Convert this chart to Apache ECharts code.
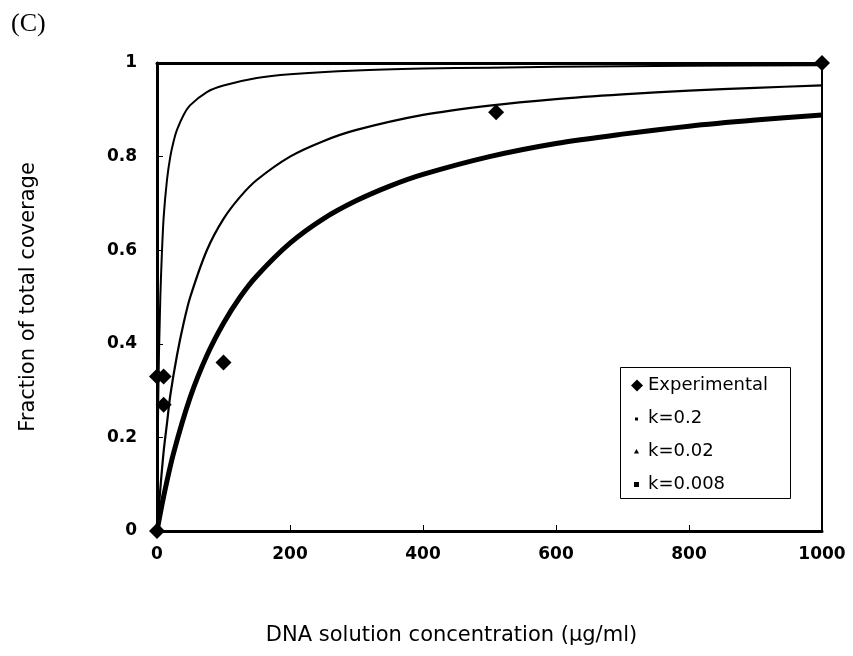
<!DOCTYPE html>
<html>
<head>
<meta charset="utf-8">
<script src="https://cdn.jsdelivr.net/npm/echarts@6/dist/echarts.min.js"></script>
<style>html,body{margin:0;padding:0;background:#fff}#c{width:853px;height:656px}</style>
</head>
<body>
<div id="c"></div>
<script>
// Experimental points [concentration, fraction]
var expX = [0, 0, 10, 10, 100, 510, 1000];
var expY = [0, 0.33, 0.33, 0.27, 0.36, 0.895, 1.0];

// Curves
var k02X = [0, 1, 2, 3, 4, 5, 7, 10, 15, 20, 25, 30, 40, 50, 75, 100, 150, 200, 300, 400, 500, 600, 800, 1000];
var k02Y = [0, 0.17, 0.29, 0.38, 0.44, 0.5, 0.58, 0.67, 0.75, 0.8, 0.833, 0.857, 0.889, 0.91, 0.938, 0.952, 0.968, 0.976, 0.984, 0.988, 0.99, 0.992, 0.994, 0.995];

var k002X = [0, 5, 10, 15, 20, 30, 40, 50, 75, 100, 125, 150, 200, 250, 300, 400, 500, 600, 700, 800, 900, 1000];
var k002Y = [0, 0.09, 0.17, 0.23, 0.29, 0.375, 0.444, 0.5, 0.6, 0.667, 0.714, 0.75, 0.8, 0.833, 0.857, 0.889, 0.909, 0.923, 0.933, 0.941, 0.947, 0.952];

var k0008X = [0, 10, 25, 50, 75, 100, 125, 150, 200, 250, 300, 350, 400, 500, 600, 700, 800, 900, 1000];
var k0008Y = [0, 0.074, 0.167, 0.286, 0.375, 0.444, 0.5, 0.545, 0.615, 0.667, 0.706, 0.737, 0.762, 0.8, 0.828, 0.848, 0.865, 0.878, 0.889];

var xTicks = [0, 200, 400, 600, 800, 1000];
var yTicks = [0, 0.2, 0.4, 0.6, 0.8, 1];

function pairs(xs, ys) { return xs.map(function (x, i) { return [x, ys[i]]; }); }

var chart = echarts.init(document.getElementById('c'));
var font = '"DejaVu Sans", "Liberation Sans", Arial, sans-serif';

chart.setOption({
  animation: false,
  backgroundColor: '#fff',
  title: {
    text: '(C)', left: 6, top: 6,
    textStyle: { fontFamily: '"Liberation Serif", "DejaVu Serif", serif', fontSize: 26, fontWeight: 'normal', color: '#000' }
  },
  grid: { left: 157, right: 31, top: 63, bottom: 125, show: true, borderColor: '#000', borderWidth: 2, backgroundColor: 'transparent' },
  xAxis: [{
    type: 'value', min: 0, max: 1000, interval: 200,
    name: 'DNA solution concentration (\u00b5g/ml)', nameLocation: 'middle', nameGap: 94,
    nameTextStyle: { fontFamily: font, fontSize: 21, color: '#000', padding: [0, 76, 0, 0] },
    axisLine: { show: true, lineStyle: { color: '#000', width: 3 } },
    axisTick: { show: true, inside: true, length: 6, lineStyle: { color: '#000', width: 1 } },
    axisLabel: { margin: 15, fontFamily: font, fontSize: 17, fontWeight: 'bold', color: '#000',
      formatter: function (v) { return String(v); } },
    splitLine: { show: false }
  }, {
    type: 'value', position: 'top', min: 0, max: 1000, interval: 200,
    axisLine: { show: true, lineStyle: { color: '#000', width: 3 } },
    axisTick: { show: false }, axisLabel: { show: false }, splitLine: { show: false }
  }],
  yAxis: {
    type: 'value', min: 0, max: 1, interval: 0.2,
    name: 'Fraction of total coverage', nameLocation: 'middle', nameGap: 118,
    nameTextStyle: { fontFamily: font, fontSize: 21, color: '#000' },
    axisLine: { show: true, lineStyle: { color: '#000', width: 3 } },
    axisTick: { show: true, inside: true, length: 6, lineStyle: { color: '#000', width: 1 } },
    axisLabel: { margin: 20, fontFamily: font, fontSize: 17, fontWeight: 'bold', color: '#000',
      formatter: function (v) { return String(Math.round(v * 10) / 10); } },
    splitLine: { show: false }
  },
  graphic: [{
    type: 'rect', left: 620, top: 367, shape: { width: 170, height: 131 },
    style: { fill: '#fff', stroke: '#000', lineWidth: 1 }, z: 3
  }],
  legend: {
    orient: 'vertical', left: 631, top: 376, padding: 0, itemGap: 14,
    itemWidth: 12, itemHeight: 12, selectedMode: false,
    textStyle: { fontFamily: font, fontSize: 18, color: '#000', lineHeight: 19 },
    data: [
      { name: 'Experimental', icon: 'diamond' },
      { name: 'k=0.2', icon: 'path://M0 0M12 12M4 5L7 5L7 8L4 8Z' },
      { name: 'k=0.02', icon: 'path://M0 0M12 12M5.5 3.5L8 8L3 8Z' },
      { name: 'k=0.008', icon: 'path://M0 0M12 12M3 3.5L8 3.5L8 8.5L3 8.5Z' }
    ]
  },
  series: [
    {
      name: 'k=0.2', type: 'line', data: pairs(k02X, k02Y), smooth: 0.3,
      showSymbol: false, lineStyle: { color: '#000', width: 2 }, itemStyle: { color: '#000' }, z: 2
    },
    {
      name: 'k=0.02', type: 'line', data: pairs(k002X, k002Y), smooth: 0.3,
      showSymbol: false, lineStyle: { color: '#000', width: 2.2 }, itemStyle: { color: '#000' }, z: 2
    },
    {
      name: 'k=0.008', type: 'line', data: pairs(k0008X, k0008Y), smooth: 0.3,
      showSymbol: false, lineStyle: { color: '#000', width: 5 }, itemStyle: { color: '#000' }, z: 2
    },
    {
      name: 'Experimental', type: 'scatter', data: pairs(expX, expY), symbol: 'diamond', symbolSize: 16,
      itemStyle: { color: '#000', opacity: 1 }, z: 3
    }
  ]
});
</script>
</body>
</html>
